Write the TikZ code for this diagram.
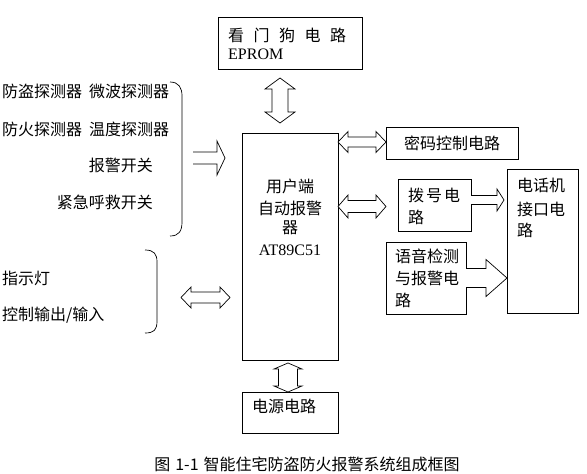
\documentclass[tikz,border=0pt]{standalone}
\usepackage{fontspec}
\setmainfont{Liberation Serif}
\newfontfamily\cjk{Noto Sans CJK SC}
\newcommand\hdblarrow[6]{% x1,x2,yc,halfshaft,halfhead,headlen
  \draw[blk] (#1,#3) -- (#1+#6,#3-#5) -- (#1+#6,#3-#4) -- (#2-#6,#3-#4) -- (#2-#6,#3-#5) -- (#2,#3)
   -- (#2-#6,#3+#5) -- (#2-#6,#3+#4) -- (#1+#6,#3+#4) -- (#1+#6,#3+#5) -- cycle;}
\newcommand\vdblarrow[6]{% y1,y2,xc,halfshaft,halfhead,headlen
  \draw[blk] (#3,#1) -- (#3+#5,#1+#6) -- (#3+#4,#1+#6) -- (#3+#4,#2-#6) -- (#3+#5,#2-#6) -- (#3,#2)
   -- (#3-#5,#2-#6) -- (#3-#4,#2-#6) -- (#3-#4,#1+#6) -- (#3-#5,#1+#6) -- cycle;}
\newcommand\hsglarrow[6]{% x1,x2,yc,halfshaft,halfhead,headlen
  \draw[blk] (#1,#3-#4) -- (#2-#6,#3-#4) -- (#2-#6,#3-#5) -- (#2,#3) -- (#2-#6,#3+#5) -- (#2-#6,#3+#4) -- (#1,#3+#4);}
\begin{document}
\begin{tikzpicture}[x=1pt,y=-1pt,
  box/.style={draw,line width=0.8pt},
  blk/.style={draw,line width=0.7pt,fill=white,line join=miter},
  zh/.style={font=\cjk\fontsize{16}{19}\selectfont,inner sep=0pt},
  lat/.style={font=\fontsize{16}{19}\selectfont,inner sep=0pt},
  brace/.style={draw,line width=0.7pt}]
\useasboundingbox (0,0) rectangle (587,474);

% boxes
\draw[box] (218,17) rectangle (362,69);
\draw[box] (242,133) rectangle (338,360);
\draw[box] (386,127) rectangle (518,159);
\draw[box] (398,179) rectangle (471,231);
\draw[box] (507,169) rectangle (578,313);
\draw[box] (386,242) rectangle (466,314);
\draw[box] (242,392) rectangle (338,433);

% box texts
\node[zh,anchor=west] (wd1) at (228,35) {看\hspace{9.5pt}门\hspace{9.5pt}狗\hspace{9.5pt}电\hspace{9.5pt}路};
\node[lat,anchor=west] (wd2) at (228,54) {EPROM};
\node[zh] (m1) at (290,186) {用户端};
\node[zh] (m2) at (290,208) {自动报警};
\node[zh] (m3) at (290,228) {器};
\node[lat] (m4) at (290,250) {AT89C51};
\node[zh] (pw) at (452,143) {密码控制电路};
\node[zh,anchor=west] (d1) at (408,195) {拨\hspace{2pt}号\hspace{2pt}电};
\node[zh,anchor=west] (d2) at (408,217) {路};
\node[zh,anchor=west] (p1) at (517,185) {电话机};
\node[zh,anchor=west] (p2) at (517,209) {接口电};
\node[zh,anchor=west] (p3) at (517,230) {路};
\node[zh,anchor=west] (v1) at (395,256) {语音检测};
\node[zh,anchor=west] (v2) at (395,278) {与报警电};
\node[zh,anchor=west] (v3) at (395,300) {路};
\node[zh,anchor=west] (ps) at (252,406) {电源电路};

% left texts
\node[zh,anchor=west] (l1) at (2,91) {防盗探测器\hspace{7pt}微波探测器};
\node[zh,anchor=west] (l2) at (2,129) {防火探测器\hspace{7pt}温度探测器};
\node[zh,anchor=east] (l3) at (153,165) {报警开关};
\node[zh,anchor=east] (l4) at (153,202) {紧急呼救开关};
\node[zh,anchor=west] (l5) at (2,278) {指示灯};
\node[zh,anchor=west] (l6) at (2,315) {控制输出/输入};

% braces
\draw[brace] (170,82) .. controls (179,82) and (182,88) .. (182,96) -- (182,222) .. controls (182,231) and (179,236) .. (170,236);
\draw[brace] (145,250) .. controls (154,250) and (157,254) .. (157,262) -- (157,321) .. controls (157,330) and (154,333) .. (145,333);

% block arrows
\vdblarrow{78}{123}{280}{8}{15}{11}
\vdblarrow{363}{392}{288}{9.5}{14}{6}
\hdblarrow{338}{386}{142}{5}{10.5}{10}
\hdblarrow{338}{386}{206.5}{6}{11.5}{10}
\hdblarrow{181}{230}{297.5}{5.5}{10.5}{10}
\hsglarrow{193}{225}{158}{6}{17}{8}
\hsglarrow{471}{504}{200}{4.5}{11}{7}
\hsglarrow{466}{507}{278}{9.5}{18.5}{21}

% caption
\node[zh] (cap) at (307,464) {图\hspace{5pt}1-1\hspace{5pt}智能住宅防盗防火报警系统组成框图};
\end{tikzpicture}
\end{document}
